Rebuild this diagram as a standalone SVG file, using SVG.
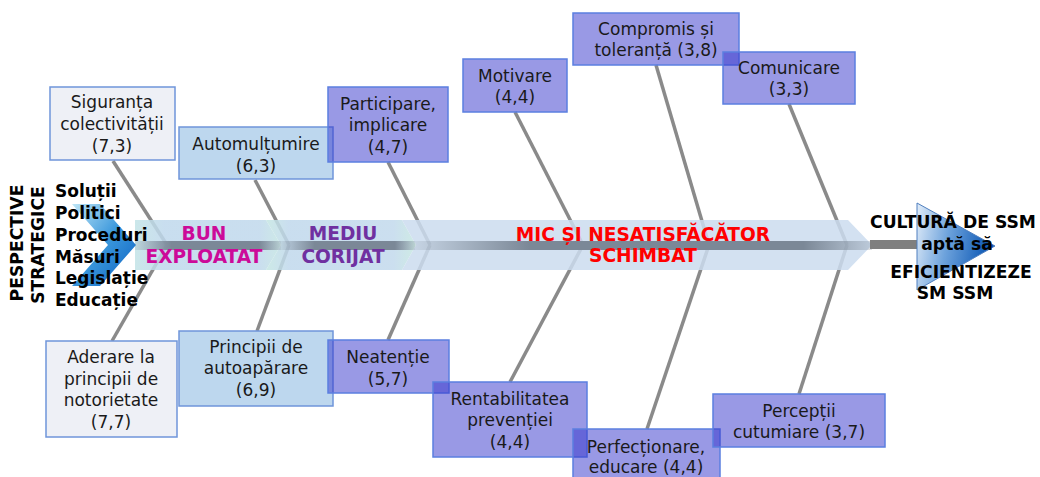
<svg xmlns="http://www.w3.org/2000/svg" width="1040" height="477" viewBox="0 0 1040 477">
  <style>
    .bone { stroke: #8a8a8a; stroke-width: 3.5; fill: none; stroke-linecap: butt; }
    .box { stroke-width: 1.5; }
    .gray { fill: #eef0f6; stroke: #6f95da; }
    .lblue { fill: #bdd7ee; stroke: #6f95da; }
    .purple { fill: #3333cc; fill-opacity: 0.5; stroke: #5b7fe0; }
    .lbl { font-family: "DejaVu Sans", Verdana, sans-serif; font-size: 17px; fill: #1a1a1a; text-anchor: middle; }
    .bold { font-family: "DejaVu Sans", Verdana, sans-serif; font-weight: bold; }
    .band { font-size: 18.6px; text-anchor: middle; }
    .list { font-size: 17px; fill: #000; }
    .side { font-size: 17.2px; fill: #000; text-anchor: middle; }
  </style>
  <defs>
    <linearGradient id="spineFade" x1="0" y1="0" x2="1" y2="0">
      <stop offset="0" stop-color="#7b8897" stop-opacity="0.15"/>
      <stop offset="0.25" stop-color="#7b8897" stop-opacity="1"/>
      <stop offset="0.85" stop-color="#7b8897" stop-opacity="1"/>
      <stop offset="1" stop-color="#7b8897" stop-opacity="0.25"/>
    </linearGradient>
    <linearGradient id="seg1" x1="0" y1="0" x2="1" y2="0">
      <stop offset="0" stop-color="#c2e3e6"/>
      <stop offset="0.2" stop-color="#bfd8ec"/>
      <stop offset="0.85" stop-color="#c0d8ec"/>
      <stop offset="1" stop-color="#c4e6e2"/>
    </linearGradient>
    <linearGradient id="seg2" x1="0" y1="0" x2="1" y2="0">
      <stop offset="0" stop-color="#c4e6e2"/>
      <stop offset="0.15" stop-color="#c0d8ec"/>
      <stop offset="0.85" stop-color="#c2d9ec"/>
      <stop offset="1" stop-color="#c6e8e0"/>
    </linearGradient>
    <linearGradient id="chev" x1="0" y1="0" x2="1" y2="1">
      <stop offset="0" stop-color="#bfe6f6"/>
      <stop offset="0.5" stop-color="#3a97dc"/>
      <stop offset="1" stop-color="#0b5fc0"/>
    </linearGradient>
    <linearGradient id="head" x1="0" y1="0" x2="1" y2="0.2">
      <stop offset="0" stop-color="#e2edf9"/>
      <stop offset="0.45" stop-color="#6ea3dc"/>
      <stop offset="1" stop-color="#0a56b4"/>
    </linearGradient>
  </defs>

  <!-- bones: gray diagonal lines from each cause box to the spine -->
  <g id="connectors">
    <line class="bone" x1="113" y1="161" x2="167" y2="245"/>
    <line class="bone" x1="167" y1="245" x2="112" y2="341"/>
    <line class="bone" x1="255" y1="180" x2="289" y2="245"/>
    <line class="bone" x1="289" y1="245" x2="257" y2="331"/>
    <line class="bone" x1="388" y1="162" x2="430" y2="245"/>
    <line class="bone" x1="430" y1="245" x2="388" y2="340"/>
    <line class="bone" x1="515" y1="112" x2="583" y2="245"/>
    <line class="bone" x1="583" y1="245" x2="510" y2="382"/>
    <line class="bone" x1="656" y1="65" x2="709" y2="245"/>
    <line class="bone" x1="709" y1="245" x2="647" y2="429"/>
    <line class="bone" x1="789" y1="104" x2="847" y2="245"/>
    <line class="bone" x1="847" y1="245" x2="799" y2="394"/>
  </g>

  <!-- spine band: three chevron segments -->
  <g id="spine">
    <polygon points="135,220 266,220 281,245 266,270 135,270" fill="url(#seg1)" fill-opacity="0.85"/>
    <polygon points="266,220 402,220 416,245 402,270 266,270 281,245" fill="url(#seg2)" fill-opacity="0.85"/>
    <polygon points="402,220 848,220 872,245 848,270 402,270 416,245" fill="#cbdcef" fill-opacity="0.85"/>
    <rect x="135" y="241" width="146" height="9" fill="url(#spineFade)"/>
    <rect x="281" y="241" width="134" height="9" fill="url(#spineFade)"/>
    <rect x="415" y="241" width="457" height="9" fill="url(#spineFade)"/>
    <rect x="870" y="240" width="48" height="9" fill="#7f7f7f"/>
  </g>

  <!-- left chevron and right arrow head -->
  <g id="tail">
    <polygon points="72,204 100,204 136,245 100,286 72,286 108,245" fill="url(#chev)"/>
  </g>
  <g id="head-shape">
    <polygon points="917,203 917,290 995,246" fill="url(#head)" stroke="#4f7fbf" stroke-width="1"/>
  </g>

  <!-- strategic perspectives -->
  <g id="perspective">
    <text class="bold side" transform="translate(23,243) rotate(-90)">PESPECTIVE</text>
    <text class="bold side" transform="translate(44,245) rotate(-90)">STRATEGICE</text>
    <text class="bold list" x="55" y="197">Soluții</text>
    <text class="bold list" x="55" y="219">Politici</text>
    <text class="bold list" x="55" y="241">Proceduri</text>
    <text class="bold list" x="55" y="263">Măsuri</text>
    <text class="bold list" x="55" y="284">Legislație</text>
    <text class="bold list" x="55" y="306">Educație</text>
  </g>

  <!-- band labels -->
  <g id="band-labels">
    <text class="bold band" x="204" y="240" fill="#cc0a99">BUN</text>
    <text class="bold band" x="204" y="263" fill="#cc0a99">EXPLOATAT</text>
    <text class="bold band" x="343" y="240" fill="#7030a0">MEDIU</text>
    <text class="bold band" x="343" y="263" fill="#7030a0">CORIJAT</text>
    <text class="bold band" x="643" y="241" fill="#ff0000">MIC ȘI NESATISFĂCĂTOR</text>
    <text class="bold band" x="643" y="262" fill="#ff0000">SCHIMBAT</text>
  </g>

  <!-- effect -->
  <g id="effect">
    <text class="bold side" x="953" y="228">CULTURĂ DE SSM</text>
    <text class="bold side" x="957" y="250">aptă să</text>
    <text class="bold side" x="961" y="278">EFICIENTIZEZE</text>
    <text class="bold side" x="955" y="299">SM SSM</text>
  </g>

  <!-- upper causes -->
  <g id="siguranta">
    <rect class="box gray" x="50" y="87" width="125" height="73"/>
    <text class="lbl" x="112" y="108">Siguranța</text>
    <text class="lbl" x="112" y="130">colectivității</text>
    <text class="lbl" x="112" y="152">(7,3)</text>
  </g>
  <g id="automultumire">
    <rect class="box lblue" x="179" y="127" width="154" height="52"/>
    <text class="lbl" x="256" y="150">Automulțumire</text>
    <text class="lbl" x="256" y="172">(6,3)</text>
  </g>
  <g id="participare">
    <rect class="box purple" x="328" y="87" width="120" height="75"/>
    <text class="lbl" x="388" y="110">Participare,</text>
    <text class="lbl" x="388" y="131">implicare</text>
    <text class="lbl" x="388" y="153">(4,7)</text>
  </g>
  <g id="motivare">
    <rect class="box purple" x="463" y="59" width="104" height="53"/>
    <text class="lbl" x="515" y="82">Motivare</text>
    <text class="lbl" x="515" y="103">(4,4)</text>
  </g>
  <g id="compromis">
    <rect class="box purple" x="573" y="13" width="166" height="52"/>
    <text class="lbl" x="656" y="35">Compromis și</text>
    <text class="lbl" x="656" y="56">toleranță (3,8)</text>
  </g>
  <g id="comunicare">
    <rect class="box purple" x="723" y="52" width="132" height="52"/>
    <text class="lbl" x="789" y="74">Comunicare</text>
    <text class="lbl" x="789" y="95">(3,3)</text>
  </g>

  <!-- lower causes -->
  <g id="aderare">
    <rect class="box gray" x="46" y="341" width="131" height="96"/>
    <text class="lbl" x="111" y="363">Aderare la</text>
    <text class="lbl" x="111" y="385">principii de</text>
    <text class="lbl" x="111" y="406">notorietate</text>
    <text class="lbl" x="111" y="428">(7,7)</text>
  </g>
  <g id="autoaparare">
    <rect class="box lblue" x="179" y="331" width="154" height="75"/>
    <text class="lbl" x="256" y="353">Principii de</text>
    <text class="lbl" x="256" y="374">autoapărare</text>
    <text class="lbl" x="256" y="396">(6,9)</text>
  </g>
  <g id="neatentie">
    <rect class="box purple" x="328" y="340" width="121" height="53"/>
    <text class="lbl" x="388" y="363">Neatenție</text>
    <text class="lbl" x="388" y="385">(5,7)</text>
  </g>
  <g id="rentabilitate">
    <rect class="box purple" x="433" y="382" width="154" height="75"/>
    <text class="lbl" x="510" y="405">Rentabilitatea</text>
    <text class="lbl" x="510" y="426">prevenției</text>
    <text class="lbl" x="510" y="448">(4,4)</text>
  </g>
  <g id="perfectionare">
    <rect class="box purple" x="573" y="429" width="147" height="52"/>
    <text class="lbl" x="646" y="453">Perfecționare,</text>
    <text class="lbl" x="646" y="473">educare (4,4)</text>
  </g>
  <g id="perceptii">
    <rect class="box purple" x="713" y="394" width="172" height="53"/>
    <text class="lbl" x="799" y="417">Percepții</text>
    <text class="lbl" x="799" y="438">cutumiare (3,7)</text>
  </g>
</svg>
